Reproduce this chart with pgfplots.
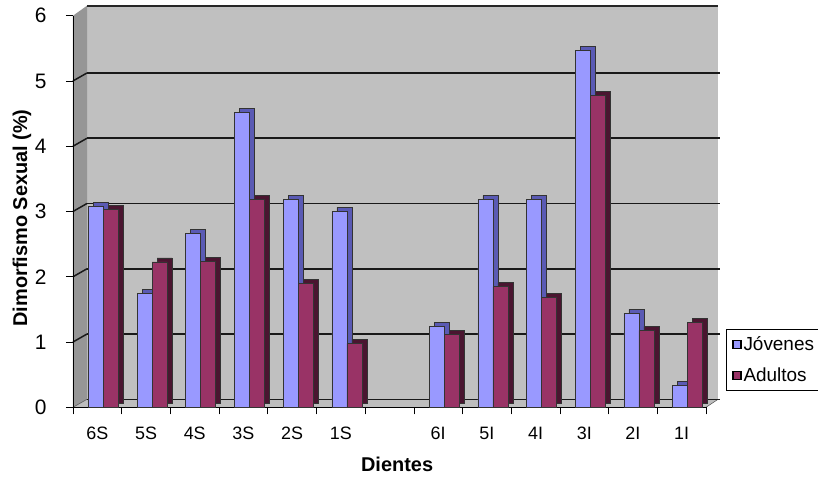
\documentclass[border=0pt]{standalone}
\usepackage{pgfplots}
\pgfplotsset{compat=1.18}
\usepackage{fontspec}
\setmainfont{Liberation Sans}
\definecolor{jov}{HTML}{9999FF}
\definecolor{jovd}{HTML}{5A5AB4}
\definecolor{adu}{HTML}{993366}
\definecolor{adud}{HTML}{4A1530}
\definecolor{wall}{HTML}{C0C0C0}
\definecolor{sidewall}{HTML}{969696}
\definecolor{floorc}{HTML}{BDBDBD}
\pgfplotsset{mylegend/.style={legend image code/.code={\draw[fill=#1,draw=black,line width=1.2bp] (0bp,-4bp) rectangle (8bp,4bp);}}}
\begin{document}
\begin{tikzpicture}[x=1bp,y=1bp]
\path[use as bounding box] (-73,-73.7) rectangle (745,407.3);
% 3D walls (axis box is 633 x 391.6 at the origin)
\fill[wall] (14,8) rectangle (645,401.6);
\fill[sidewall] (0,0) -- (14,8) -- (14,401.6) -- (0,391.6) -- cycle;
\filldraw[fill=floorc, draw=black!70, line width=0.5bp] (0,0) -- (633,0) -- (645,8) -- (14,8) -- cycle;
\foreach \k in {1,...,5} {
  \draw[black!90, line width=1.5bp] (0,65.267*\k) -- (14,65.267*\k+8);
}
\draw[black!85, line width=2bp] (14,401.6) -- (645,401.6);
\begin{axis}[
  at={(0,0)}, anchor=south west,
  clip=false,
  scale only axis, width=633bp, height=391.6bp,
  xmin=-0.5, xmax=12.5, ymin=0, ymax=6,
  axis x line*=bottom, axis y line*=left,
  axis line style={black, line width=0.6bp},
  xtick={-0.5,0.5,...,12.5},
  xticklabels={},
  extra x ticks={0,1,2,3,4,5,7,8,9,10,11,12},
  extra x tick labels={6S,5S,4S,3S,2S,1S,6I,5I,4I,3I,2I,1I},
  extra x tick style={major tick length=0pt, grid=none},
  ytick={0,1,2,3,4,5},
  tick align=outside,
  major tick length=7bp,
  tick style={black, line width=0.6bp},
  ymajorgrids,
  major grid style={black!90, line width=1.5bp, shift={(14bp,8bp)}},
  extra y ticks={6},
  extra y tick style={grid=none},
  /pgf/number format/assume math mode=true,
  yticklabel style={font=\fontsize{21}{24}\selectfont, xshift=-16bp},
  xticklabel style={font=\fontsize{18}{20}\selectfont, yshift=-16bp},
  xlabel={Dientes},
  ylabel={Dimorfismo Sexual (\%)},
  every axis x label/.style={at={(rel axis cs:0.512,-0.147)}, anchor=center,
    font=\bfseries\fontsize{20}{22}\selectfont},
  every axis y label/.style={at={(rel axis cs:-0.0806,0.4834)}, anchor=center, rotate=90,
    font=\bfseries\fontsize{20}{22}\selectfont},
  ybar, bar width=15bp,
  legend style={at={(1.0316,0.199)}, anchor=north west, draw=black, line width=0.6bp,
    font=\fontsize{19}{21}\selectfont, /tikz/row sep=12bp, inner xsep=6bp, inner ysep=5bp,
    cells={anchor=west}},
]
% Jovenes depth
\addplot[bar shift=-1.5bp, xshift=5bp, yshift=4bp, fill=jovd, draw=black!80, line width=0.5bp, forget plot]
  coordinates {(0,3.08) (1,1.75) (2,2.67) (3,4.52) (4,3.18) (5,3.00) (7,1.24) (8,3.18) (9,3.19) (10,5.47) (11,1.44) (12,0.34)};
% Jovenes front
\addplot[bar shift=-1.5bp, fill=jov, draw=black!80, line width=0.5bp, mylegend=jov]
  coordinates {(0,3.08) (1,1.75) (2,2.67) (3,4.52) (4,3.18) (5,3.00) (7,1.24) (8,3.18) (9,3.19) (10,5.47) (11,1.44) (12,0.34)};
% Adultos depth
\addplot[bar shift=13.5bp, xshift=5bp, yshift=4bp, fill=adud, draw=black!80, line width=0.5bp, forget plot]
  coordinates {(0,3.03) (1,2.23) (2,2.24) (3,3.18) (4,1.90) (5,0.98) (7,1.12) (8,1.85) (9,1.68) (10,4.78) (11,1.18) (12,1.30)};
% Adultos front
\addplot[bar shift=13.5bp, fill=adu, draw=black!80, line width=0.5bp, mylegend=adu]
  coordinates {(0,3.03) (1,2.23) (2,2.24) (3,3.18) (4,1.90) (5,0.98) (7,1.12) (8,1.85) (9,1.68) (10,4.78) (11,1.18) (12,1.30)};
\legend{Jóvenes,Adultos}
\end{axis}
\end{tikzpicture}
\end{document}
